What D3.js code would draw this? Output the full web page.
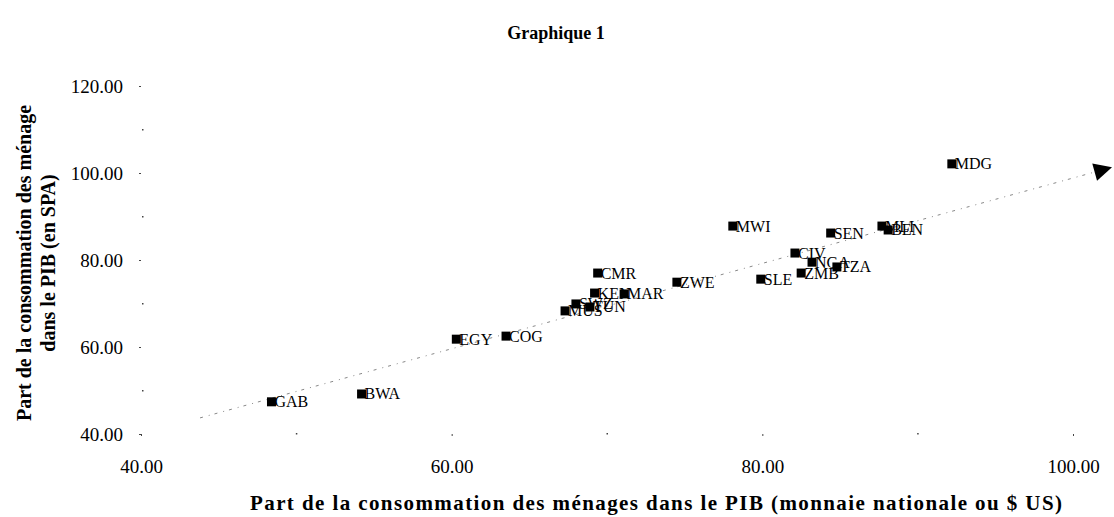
<!DOCTYPE html>
<html>
<head>
<meta charset="utf-8">
<script src="https://cdn.jsdelivr.net/npm/d3@7"></script>
<style>
  body { margin: 0; background: #fff; }
  svg text { font-family: "Liberation Serif", "DejaVu Serif", serif; fill: #000; }
</style>
</head>
<body>
<svg id="chart" width="1114" height="517"></svg>
<script>
// country codes and values
const countries = ['GAB', 'BWA', 'EGY', 'COG', 'MUS', 'SWZ', 'TUN', 'KEN', 'MAR', 'CMR', 'ZWE',
                   'MWI', 'SLE', 'ZMB', 'CIV', 'NGA', 'TZA', 'SEN', 'MLI', 'BEN', 'MDG'];
// share of household consumption in GDP (national currency / US$)
const xValues = [48.4, 54.2, 60.3, 63.5, 67.3, 68.0, 68.9, 69.2, 71.1, 69.4, 74.5,
                 78.1, 79.9, 82.5, 82.1, 83.2, 84.8, 84.4, 87.7, 88.1, 92.2];
// share of household consumption in GDP (PPP)
const yValues = [47.4, 49.2, 61.8, 62.5, 68.3, 69.9, 69.2, 72.4, 72.2, 77.0, 74.9,
                 87.8, 75.6, 77.0, 81.6, 79.5, 78.4, 86.2, 87.8, 86.9, 102.1];

const xTicks = [40, 60, 80, 100];
const yTicks = [40, 60, 80, 100, 120];
const minorTicks = [50, 70, 90, 110];

// trend arrow, start and end in data units
const trendX = [43.8, 102.4];
const trendY = [43.7, 101.2];

const svg = d3.select('#chart');

const x = d3.scaleLinear().domain([40, 100]).range([141, 1073]);
const y = d3.scaleLinear().domain([40, 120]).range([434, 86]);

// title
svg.append('text')
  .attr('x', 556).attr('y', 39)
  .attr('text-anchor', 'middle')
  .style('font-size', '18px').style('font-weight', 'bold')
  .text('Graphique 1');

// y axis (the scan only keeps the tick dots)
const yAxis = svg.append('g')
  .attr('transform', 'translate(141,0)')
  .call(d3.axisLeft(y).tickValues(yTicks).tickFormat(d3.format('.2f')).tickSize(2).tickPadding(16));
yAxis.select('.domain').remove();
yAxis.selectAll('.tick line').attr('stroke', '#444');
yAxis.selectAll('.tick text').style('font-size', '19px');

const xAxis = svg.append('g')
  .attr('transform', 'translate(0,434)')
  .call(d3.axisBottom(x).tickValues(xTicks).tickFormat(d3.format('.2f')).tickSize(2).tickPadding(24));
xAxis.select('.domain').remove();
xAxis.selectAll('.tick line').attr('stroke', '#444');
xAxis.selectAll('.tick text').style('font-size', '19px');

// minor tick dots
svg.append('g').selectAll('rect')
  .data(minorTicks)
  .join('rect')
  .attr('x', 142).attr('y', d => y(d) - 0.5)
  .attr('width', 1.5).attr('height', 1.5)
  .attr('fill', '#444');
svg.append('g').selectAll('rect')
  .data(minorTicks.filter(d => d < 100))
  .join('rect')
  .attr('x', d => x(d) - 0.5).attr('y', 433)
  .attr('width', 1.5).attr('height', 1.5)
  .attr('fill', '#444');

// axis titles
svg.append('text')
  .attr('x', 250).attr('y', 510)
  .attr('textLength', 812)
  .attr('lengthAdjust', 'spacing')
  .style('font-size', '21px').style('font-weight', 'bold')
  .text('Part de la consommation des ménages dans le PIB (monnaie nationale ou $ US)');

const yTitle = svg.append('text')
  .attr('transform', 'translate(31,263) rotate(-90)')
  .attr('text-anchor', 'middle')
  .style('font-size', '20px').style('font-weight', 'bold');
yTitle.append('tspan').attr('x', 0).attr('dy', 0).text('Part de la consommation des ménage');
yTitle.append('tspan').attr('x', 0).attr('dy', 24).text('dans le PIB (en SPA)');

// trend line with arrow head
svg.append('defs').append('marker')
  .attr('id', 'arrow')
  .attr('viewBox', '0 0 10 10')
  .attr('refX', 9).attr('refY', 5)
  .attr('markerWidth', 24).attr('markerHeight', 18)
  .attr('markerUnits', 'userSpaceOnUse')
  .attr('orient', 'auto')
  .append('path')
  .attr('d', 'M0,0 L10,5 L0,10 z')
  .attr('fill', '#000');

svg.append('line')
  .attr('x1', x(trendX[0])).attr('y1', y(trendY[0]))
  .attr('x2', x(trendX[1])).attr('y2', y(trendY[1]))
  .attr('stroke', '#888')
  .attr('stroke-width', 1)
  .attr('stroke-dasharray', '3,6,1,5')
  .attr('marker-end', 'url(#arrow)');

// points
const points = countries.map((c, i) => ({ code: c, x: xValues[i], y: yValues[i] }));

const pts = svg.append('g').selectAll('g')
  .data(points)
  .join('g')
  .attr('transform', d => `translate(${x(d.x)},${y(d.y)})`);

pts.append('rect')
  .attr('x', -4.5).attr('y', -4.5)
  .attr('width', 9).attr('height', 9)
  .attr('fill', '#000');

pts.append('text')
  .attr('x', 3).attr('y', 5.5)
  .style('font-size', '16px')
  .text(d => d.code);
</script>
</body>
</html>
